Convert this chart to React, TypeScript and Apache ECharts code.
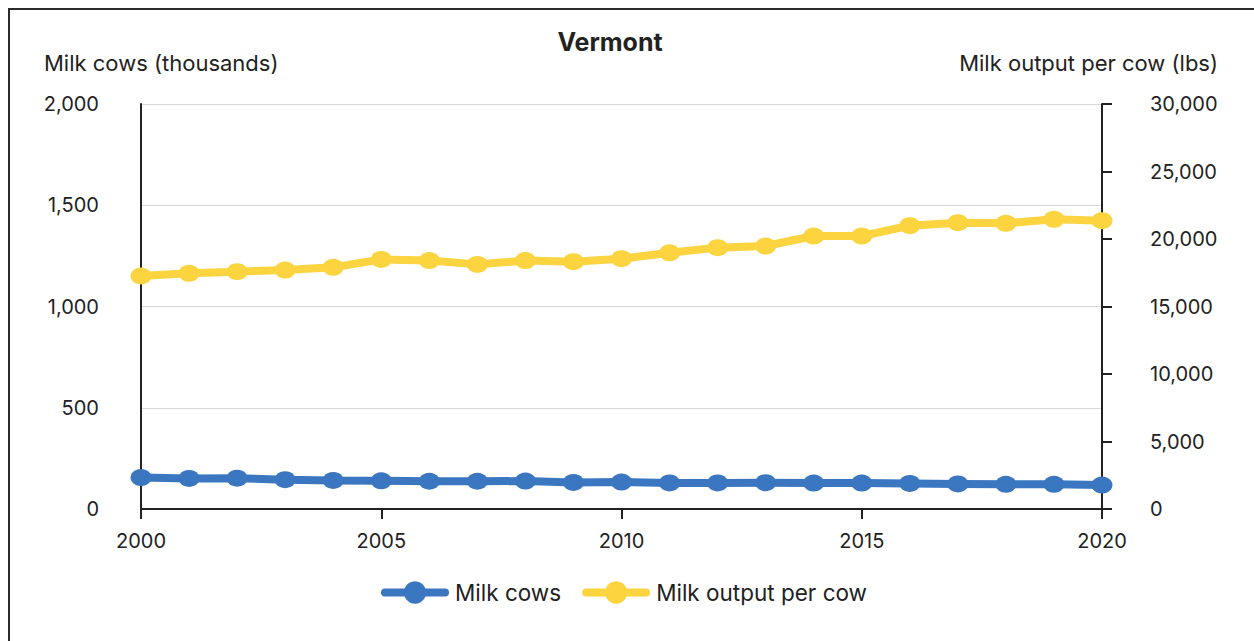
import React, { useEffect, useRef } from "react";
import * as echarts from "echarts";

const years = [2000, 2001, 2002, 2003, 2004, 2005, 2006, 2007, 2008, 2009, 2010, 2011, 2012, 2013, 2014, 2015, 2016, 2017, 2018, 2019, 2020];
const milkCows = [155, 151, 152, 145, 141, 139, 137, 137, 138, 131, 133, 129, 129, 130, 128, 128, 126, 124, 122, 122, 118];
const milkPerCow = [17260, 17460, 17580, 17700, 17900, 18490, 18400, 18120, 18400, 18320, 18540, 18980, 19360, 19480, 20220, 20220, 20990, 21210, 21160, 21460, 21360];
const leftTicks = { min: 0, max: 2000, interval: 500 };
const rightTicks = { min: 0, max: 30000, interval: 5000 };
const xTicks = { min: 2000, max: 2020, interval: 5 };

const FONT = "Inter";
const TXT = "#222222";

export default function App() {
  const ref = useRef<HTMLDivElement>(null);
  useEffect(() => {
    if (!ref.current) return;
    const chart = echarts.init(ref.current, undefined, { renderer: "svg" });
    chart.setOption({
      animation: false,
      textStyle: { fontFamily: FONT, color: TXT },
      grid: { left: 131, right: 152, top: 94, bottom: 132 },
      graphic: [
        { type: "text", x: 600, y: 32, style: { text: "Vermont", font: `bold 25px ${FONT}`, fill: TXT, textAlign: "center", textVerticalAlign: "middle" } },
        { type: "text", x: 34, y: 53, style: { text: "Milk cows (thousands)", font: `22px ${FONT}`, fill: TXT, textVerticalAlign: "middle" } },
        { type: "text", x: 1208, y: 53, style: { text: "Milk output per cow (lbs)", font: `22px ${FONT}`, fill: TXT, textAlign: "right", textVerticalAlign: "middle" } },
      ],
      legend: {
        left: 366,
        top: 566,
        itemWidth: 60,
        itemHeight: 28,
        itemGap: 21,
        lineStyle: { width: 8, cap: "round" },
        textStyle: { fontFamily: FONT, fontSize: 22.5, color: TXT, padding: [0, 0, 0, 5] },
        data: ["Milk cows", "Milk output per cow"],
      },
      xAxis: {
        type: "value",
        min: xTicks.min,
        max: xTicks.max,
        interval: xTicks.interval,
        axisLine: { show: true, lineStyle: { color: TXT, width: 2 } },
        axisTick: { show: true, length: 10, lineStyle: { color: TXT, width: 2 } },
        splitLine: { show: false },
        axisLabel: { formatter: (v: number) => String(v), fontSize: 20, color: TXT, margin: 22, fontFamily: FONT },
      },
      yAxis: [
        {
          type: "value",
          position: "left",
          min: leftTicks.min,
          max: leftTicks.max,
          interval: leftTicks.interval,
          axisLine: { show: true, lineStyle: { color: TXT, width: 2 } },
          axisTick: { show: false },
          splitLine: { show: true, lineStyle: { color: "#d9d9d9", width: 1 } },
          axisLabel: { fontSize: 20, color: TXT, margin: 42, fontFamily: FONT },
        },
        {
          type: "value",
          position: "right",
          min: rightTicks.min,
          max: rightTicks.max,
          interval: rightTicks.interval,
          axisLine: { show: true, lineStyle: { color: TXT, width: 2 } },
          axisTick: { show: true, length: 10, lineStyle: { color: TXT, width: 2 } },
          splitLine: { show: false },
          axisLabel: { fontSize: 20, color: TXT, margin: 48, fontFamily: FONT },
        },
      ],
      series: [
        {
          name: "Milk cows",
          type: "line",
          yAxisIndex: 0,
          data: years.map((y, i) => [y, milkCows[i]]),
          symbol: "circle",
          symbolSize: [21, 17],
          itemStyle: { color: "#3a77c0" },
          lineStyle: { color: "#3a77c0", width: 8 },
          z: 3,
        },
        {
          name: "Milk output per cow",
          type: "line",
          yAxisIndex: 1,
          data: years.map((y, i) => [y, milkPerCow[i]]),
          symbol: "circle",
          symbolSize: [21, 17],
          itemStyle: { color: "#fbd43f" },
          lineStyle: { color: "#fbd43f", width: 8 },
          z: 3,
        },
      ],
    });
    return () => chart.dispose();
  }, []);
  return (
    <div
      style={{
        position: "absolute",
        left: 8,
        top: 8,
        width: 1246,
        height: 633,
        borderLeft: "2px solid #2b2b2b",
        borderTop: "2px solid #2b2b2b",
        boxSizing: "border-box",
        overflow: "hidden",
        background: "#fff",
      }}
    >
      <div ref={ref} style={{ width: 1244, height: 631 }} />
    </div>
  );
}
